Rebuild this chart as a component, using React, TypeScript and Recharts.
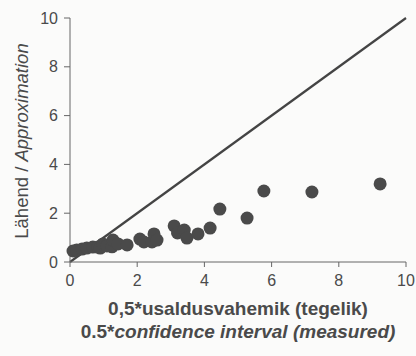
import React from 'react';
import { ScatterChart, Scatter, XAxis, YAxis, ReferenceLine, Label } from 'recharts';

// measured half confidence interval vs approximation
const measuredX = [
  0.09, 0.2, 0.36, 0.5, 0.68, 0.83, 0.9, 0.98, 1.1, 1.25, 1.28, 1.43, 1.7,
  2.08, 2.2, 2.44, 2.5, 2.59, 3.1, 3.2, 3.4, 3.48, 3.81, 4.17, 4.46, 5.27,
  5.77, 7.2, 9.23,
];
const approxY = [
  0.45, 0.49, 0.53, 0.57, 0.61, 0.61, 0.57, 0.74, 0.66, 0.62, 0.9, 0.74, 0.7,
  0.94, 0.82, 0.82, 1.15, 0.9, 1.48, 1.19, 1.31, 0.98, 1.15, 1.39, 2.17, 1.8,
  2.91, 2.87, 3.2,
];
const ticks = [0, 2, 4, 6, 8, 10];
const lineX = [0, 10];
const lineY = [0, 10];

const points = measuredX.map((x, i) => ({ x, y: approxY[i] }));

const FONT = '"Liberation Sans", Arial, sans-serif';
const TEXT = '#4a4a4a';
const AXIS = '#666';

const YLabel = (props: any) => {
  const vb = props.viewBox || {};
  const cx = 21;
  const cy = vb.y + vb.height / 2 + 1;
  return (
    <text
      x={cx}
      y={cy}
      transform={`rotate(-90, ${cx}, ${cy})`}
      textAnchor="middle"
      dominantBaseline="central"
      fill={TEXT}
      fontFamily={FONT}
      fontSize={18.5}
    >
      <tspan>Lähend / </tspan>
      <tspan fontStyle="italic">Approximation</tspan>
    </text>
  );
};

const XLabel = (props: any) => {
  const vb = props.viewBox || {};
  const cx = vb.x + vb.width / 2;
  return (
    <text textAnchor="middle" fill={TEXT} fontFamily={FONT} fontSize={19} fontWeight="bold">
      <tspan x={cx} y={315}>0,5*usaldusvahemik (tegelik)</tspan>
      <tspan x={cx} y={338}>
        0.5*<tspan fontStyle="italic">confidence interval (measured)</tspan>
      </tspan>
    </text>
  );
};

export default function App() {
  return (
    <div style={{ position: 'absolute', left: 0, top: 0, width: 416, height: 356, background: '#fbfbfa' }}>
      <ScatterChart width={416} height={356} margin={{ top: 18, right: 10, left: 0, bottom: 0 }}>
        <XAxis
          type="number"
          dataKey="x"
          domain={[0, 10]}
          ticks={ticks}
          height={94}
          tickSize={5}
          tickMargin={8}
          stroke={AXIS}
          tick={{ fill: TEXT, fontSize: 16, fontFamily: FONT }}
        >
          <Label content={<XLabel />} />
        </XAxis>
        <YAxis
          type="number"
          dataKey="y"
          domain={[0, 10]}
          ticks={ticks}
          width={70}
          tickSize={6}
          tickMargin={6}
          stroke={AXIS}
          tick={{ fill: TEXT, fontSize: 16, fontFamily: FONT }}
        >
          <Label content={<YLabel />} />
        </YAxis>
        <ReferenceLine
          segment={[{ x: lineX[0], y: lineY[0] }, { x: lineX[1], y: lineY[1] }]}
          stroke="#444"
          strokeWidth={2.2}
          ifOverflow="visible"
        />
        <Scatter
          data={points}
          isAnimationActive={false}
          shape={(p: any) => <circle cx={p.cx} cy={p.cy} r={6.5} fill="#4a4a4a" />}
        />
      </ScatterChart>
    </div>
  );
}
